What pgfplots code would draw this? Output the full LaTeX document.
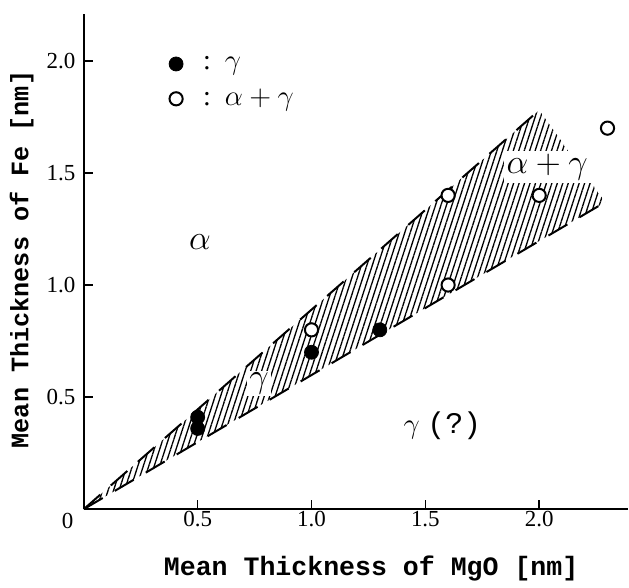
\documentclass[border=0pt]{standalone}
\usepackage{fontspec}
\setmainfont{Liberation Serif}
\setmonofont{Liberation Mono}
\usepackage{pgfplots}
\pgfplotsset{compat=1.18}
\usetikzlibrary{patterns.meta}
\begin{document}
\begin{tikzpicture}
\begin{axis}[
 scale only axis, width=272.5pt, height=248pt,
 xmin=0, xmax=2.39, ymin=0, ymax=2.21,
 axis x line*=bottom, axis y line*=left,
 axis line style={line width=1pt, -},
 xtick={0.5,1,1.5,2}, ytick={0.5,1,1.5,2},
 tick align=inside, major tick length=4.5pt,
 tick style={line width=0.8pt, black},
 /pgf/number format/assume math mode=true,
 /pgf/number format/fixed, /pgf/number format/fixed zerofill, /pgf/number format/precision=1,
 ticklabel style={font=\fontsize{11.5}{12}\selectfont},
 xticklabel style={inner sep=1pt},
 yticklabel style={inner sep=1pt, xshift=-3pt},
 clip=false,
 legend style={draw=none, fill=none, at={(rel axis cs:0.145,0.932)}, anchor=north west,
   font=\fontsize{14}{15}\selectfont, row sep=4.5pt},
 legend cell align=left,
]
% hatched band
\addplot[forget plot, draw=none, pattern={Lines[angle=72,distance=2.6pt,line width=0.65pt]}]
  coordinates {(0,0) (2.0,1.78) (2.29,1.37) (0,0)};
% dashed boundaries
\addplot[forget plot, line width=1pt, dash pattern=on 11pt off 7pt] coordinates {(0,0) (2.0,1.78)};
\addplot[forget plot, line width=1pt, dash pattern=on 11pt off 7pt] coordinates {(0,0) (2.29,1.37)};
% white label cut-outs
\node[fill=white, inner sep=1.5pt, font=\fontsize{17}{18}\selectfont] at (axis cs:2.035,1.527) {$\alpha+\gamma$};
\node[fill=white, inner sep=1pt, font=\fontsize{16}{17}\selectfont] at (axis cs:0.77,0.56) {$\gamma$};
% data
\addplot[only marks, mark=*, mark size=3.5pt, black] coordinates {(0.5,0.41) (0.5,0.36) (1.0,0.70) (1.3,0.80)};
\addplot[only marks, mark=*, mark size=3.3pt, line width=1pt, mark options={fill=white, draw=black}]
  coordinates {(1.0,0.80) (1.6,1.40) (1.6,1.0) (2.0,1.40) (2.3,1.70)};
\legend{\hspace{8pt}:\enspace$\gamma$, \hspace{8pt}:\enspace$\alpha+\gamma$}
% region labels
\node[font=\fontsize{19}{20}\selectfont] at (axis cs:0.51,1.19) {$\alpha$};
\node[font=\fontsize{15}{16}\selectfont] at (axis cs:1.575,0.37) {$\gamma$\ \texttt{(?)}};
% origin label
\node[anchor=north east, inner sep=0pt, font=\fontsize{11.5}{12}\selectfont] at ([xshift=-5pt,yshift=-2pt]axis cs:0,0) {0};
% axis labels
\node[font=\bfseries\ttfamily\fontsize{13.3}{14}\selectfont] at (rel axis cs:0.528,-0.12) {Mean Thickness of MgO [nm]};
\node[rotate=90, font=\bfseries\ttfamily\fontsize{12.6}{14}\selectfont] at (rel axis cs:-0.114,0.504) {Mean Thickness of Fe [nm]};
% bounding box
\path (rel axis cs:-0.154,-0.155) rectangle (rel axis cs:1,1.028);
\end{axis}
\end{tikzpicture}
\end{document}
